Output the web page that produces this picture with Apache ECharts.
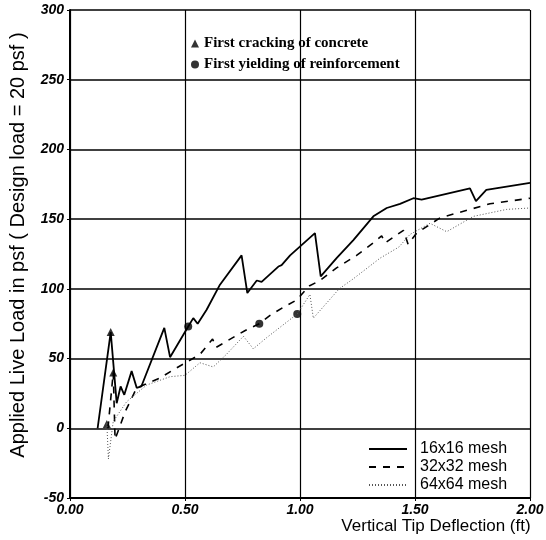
<!DOCTYPE html>
<html>
<head>
<meta charset="utf-8">
<script src="https://cdn.jsdelivr.net/npm/echarts@6/dist/echarts.min.js"></script>
<style>
  html, body { margin: 0; padding: 0; background: #fff; }
  #chart { width: 546px; height: 540px; }
</style>
</head>
<body>
<div id="chart"></div>
<script>
// deflection (ft) / load (psf)
const mesh16X = [0.12, 0.177, 0.203, 0.22, 0.236, 0.268, 0.29, 0.31, 0.41, 0.435, 0.514, 0.536, 0.555, 0.594, 0.652, 0.746, 0.771, 0.812, 0.833, 0.906, 0.92, 0.957, 1.065, 1.09, 1.159, 1.232, 1.319, 1.377, 1.435, 1.493, 1.529, 1.739, 1.765, 1.81, 2.0];
const mesh16Y = [0, 69, 18, 30, 24, 41, 29, 30, 72, 51, 73, 79, 75, 85, 103, 124, 97, 106, 105, 116, 117, 124, 140, 109, 122, 135, 152, 158, 161, 165, 164, 172, 163, 171, 176];

const mesh32X = [0.165, 0.188, 0.196, 0.24, 0.29, 0.39, 0.45, 0.565, 0.62, 0.635, 0.76, 0.823, 0.87, 0.93, 0.985, 1.04, 1.087, 1.159, 1.246, 1.319, 1.355, 1.37, 1.45, 1.47, 1.507, 1.61, 1.696, 1.826, 2.0];
const mesh32Y = [0, 40, -8, 12, 29, 36, 42, 53, 64, 58, 70, 75, 81, 87, 92, 102, 106, 115, 124, 133, 138, 133, 142, 132, 140, 151, 155, 161, 165];

const mesh64X = [0.155, 0.16, 0.167, 0.188, 0.246, 0.333, 0.435, 0.5, 0.565, 0.623, 0.68, 0.754, 0.797, 0.855, 0.988, 1.043, 1.058, 1.17, 1.23, 1.348, 1.43, 1.478, 1.565, 1.638, 1.754, 1.899, 2.0];
const mesh64Y = [0, 4, -22, 5, 19, 31, 37, 38, 47, 44, 53, 66, 57, 65, 82, 96, 79, 100, 107, 122, 130, 139, 147, 141, 152, 157, 158];

const crackX = [0.177, 0.188, 0.16];
const crackY = [69, 40, 3];
const yieldX = [0.514, 0.823, 0.988];
const yieldY = [73, 75, 82];

const xTicks = [0, 0.5, 1.0, 1.5, 2.0];

const pairs = (xs, ys) => xs.map((x, i) => [x, ys[i]]);

let myChart = echarts.init(document.getElementById('chart'));

const tickFont = { color: '#000', fontFamily: 'Liberation Sans', fontWeight: 'bold', fontStyle: 'italic', fontSize: 14 };

let option = {
    backgroundColor: '#fff',
    animation: false,
    grid: { left: 70, right: 16, top: 10, bottom: 42, outerBoundsMode: 'none' },
    legend: [
        {
            data: ['First cracking of concrete', 'First yielding of reinforcement'],
            orient: 'vertical',
            left: 186,
            top: 31,
            itemWidth: 8,
            itemHeight: 8,
            itemGap: 6,
            textStyle: { fontFamily: 'Liberation Serif', fontWeight: 'bold', fontSize: 15, color: '#000' }
        },
        {
            data: ['16x16 mesh', '32x32 mesh', '64x64 mesh'],
            orient: 'vertical',
            left: 363,
            top: 436,
            itemWidth: 38,
            itemHeight: 12,
            itemGap: 2,
            itemStyle: { opacity: 0 },
            textStyle: { fontFamily: 'Liberation Sans', fontSize: 16, color: '#000', padding: [0, 0, 0, 8] }
        }
    ],
    xAxis: {
        type: 'value',
        min: 0,
        max: 2,
        interval: 0.5,
        name: 'Vertical Tip Deflection (ft)',
        nameLocation: 'middle',
        nameGap: 20,
        nameMoveOverlap: false,
        nameTextStyle: { fontFamily: 'Liberation Sans', fontSize: 17, color: '#000', padding: [0, 0, 0, 272] },
        axisLine: { onZero: false, lineStyle: { color: '#000', width: 2 } },
        axisTick: { show: true, length: 3, lineStyle: { color: '#000' } },
        axisLabel: Object.assign({ margin: 5, formatter: v => xTicks.includes(v) ? v.toFixed(2) : '' }, tickFont),
        splitLine: { show: true, lineStyle: { color: '#000', width: 1.2 } }
    },
    yAxis: {
        type: 'value',
        min: -50,
        max: 300,
        interval: 50,
        name: 'Applied Live Load in psf ( Design load = 20 psf )',
        nameLocation: 'middle',
        nameGap: 42,
        nameTextStyle: { fontFamily: 'Liberation Sans', fontSize: 20, color: '#000', padding: [0, 0, 0, 18] },
        axisLine: { onZero: false, lineStyle: { color: '#000', width: 2 } },
        axisTick: { show: true, length: 3, lineStyle: { color: '#000' } },
        axisLabel: Object.assign({ margin: 6 }, tickFont),
        splitLine: { show: true, lineStyle: { color: '#000', width: 1.6 } }
    },
    series: [
        {
            name: '16x16 mesh',
            type: 'line',
            symbol: 'none',
            color: '#000',
            lineStyle: { color: '#000', width: 1.8, type: 'solid' },
            data: pairs(mesh16X, mesh16Y)
        },
        {
            name: '32x32 mesh',
            type: 'line',
            symbol: 'none',
            color: '#000',
            lineStyle: { color: '#000', width: 1.6, type: [7, 7] },
            data: pairs(mesh32X, mesh32Y)
        },
        {
            name: '64x64 mesh',
            type: 'line',
            symbol: 'none',
            color: '#000',
            lineStyle: { color: '#555', width: 1, type: [1, 2] },
            data: pairs(mesh64X, mesh64Y)
        },
        {
            name: 'First cracking of concrete',
            type: 'scatter',
            symbol: 'triangle',
            symbolSize: 8,
            itemStyle: { color: '#000' },
            data: pairs(crackX, crackY)
        },
        {
            name: 'First yielding of reinforcement',
            type: 'scatter',
            symbol: 'circle',
            symbolSize: 8,
            itemStyle: { color: '#000' },
            data: pairs(yieldX, yieldY)
        }
    ]
};

myChart.setOption(option);
window.addEventListener('resize', myChart.resize);
</script>
</body>
</html>
